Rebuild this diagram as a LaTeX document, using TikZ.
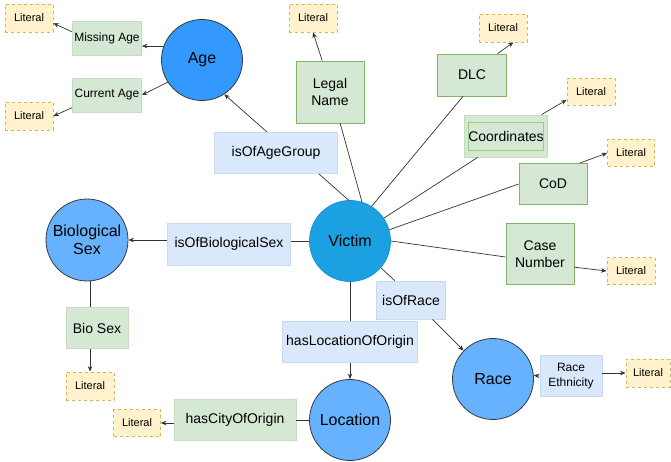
\documentclass[tikz,border=0pt]{standalone}
\usepackage{fontspec}
\setmainfont{Liberation Sans}
\usetikzlibrary{arrows.meta}
\definecolor{attfill}{HTML}{D5E8D4}
\definecolor{attline}{HTML}{82B366}
\definecolor{attfaint}{HTML}{C6DDC2}
\definecolor{attinner}{HTML}{97D077}
\definecolor{relfill}{HTML}{DAE8FC}
\definecolor{relline}{HTML}{C8D9F2}
\definecolor{litfill}{HTML}{FFF2CC}
\definecolor{litline}{HTML}{D6B656}
\definecolor{agefill}{HTML}{3399FF}
\definecolor{clsfill}{HTML}{66B2FF}
\definecolor{clsline}{HTML}{36393D}
\definecolor{vicfill}{HTML}{1BA1E2}
\definecolor{vicline}{HTML}{1793D2}
\definecolor{edgecol}{HTML}{333333}

\begin{document}
\begin{tikzpicture}[x=1pt,y=-1pt,
    every node/.style={inner sep=0pt,align=center},
    lit/.style={rectangle,draw=litline,fill=litfill,dashed,line width=0.8pt,minimum width=48pt,minimum height=28pt,font=\fontsize{11}{13}\selectfont},
    att/.style={rectangle,draw=attline,fill=attfill,line width=0.8pt,font=\fontsize{14}{17}\selectfont},
    attf/.style={att,draw=attfaint},
    rel/.style={rectangle,draw=relline,fill=relfill,line width=0.8pt,font=\fontsize{14}{17}\selectfont},
    cls/.style={circle,draw=clsline,fill=clsfill,line width=0.8pt,minimum size=81pt,font=\fontsize{16}{18}\selectfont},
    edge/.style={draw=edgecol,line width=0.7pt},
    arr/.style={edge,-{Stealth[length=5.5pt,width=4.5pt]}}]
    \useasboundingbox (0,0) rectangle (671,462);

    \node[cls,fill=agefill] (age) at (202,60) {Age};
    \node[attf,minimum width=69pt,minimum height=34pt,font=\fontsize{12}{14}\selectfont] (missing) at (107,38) {Missing Age};
    \node[attf,minimum width=69pt,minimum height=34pt,font=\fontsize{12}{14}\selectfont] (current) at (107,95) {Current Age};
    \node[lit] (litA) at (29,18) {Literal};
    \node[lit] (litB) at (29,116) {Literal};

    \node[att,minimum width=68pt,minimum height=62pt] (legal) at (330,92) {Legal\\Name};
    \node[lit] (litC) at (313,18) {Literal};
    \node[rel,minimum width=123pt,minimum height=41pt] (agegrp) at (276,153) {isOfAgeGroup};

    \node[att,minimum width=69pt,minimum height=42pt] (dlc) at (472,75) {DLC};
    \node[lit] (litD) at (503,28) {Literal};
    \node[attf,minimum width=83pt,minimum height=42pt] (coord) at (506,136) {};
    \node[rectangle,draw=attinner,line width=0.8pt,minimum width=69pt,minimum height=28pt,font=\fontsize{14}{17}\selectfont] (coordin) at (coord) {Coordinates};
    \node[lit,minimum height=27pt] (litE) at (591,92) {Literal};
    \node[att,minimum width=68pt,minimum height=41pt] (cod) at (553,184) {CoD};
    \node[lit,minimum width=47pt,minimum height=27pt] (litF) at (631,153) {Literal};

    \node[cls,fill=vicfill,draw=vicline] (victim) at (350,241) {Victim};
    \node[att,minimum width=68pt,minimum height=61pt] (casenum) at (540,254) {Case\\Number};
    \node[lit,minimum height=27pt] (litG) at (631,271) {Literal};

    \node[rel,minimum width=69pt,minimum height=38pt] (racegrp) at (411,300) {isOfRace};
    \node[cls] (race) at (493,379) {Race};
    \node[rel,minimum width=62pt,minimum height=41pt,font=\fontsize{12}{14.5}\selectfont] (ethn) at (571,376) {Race\\Ethnicity};
    \node[lit,minimum width=44pt] (litH) at (648,373) {Literal};

    \node[rel,minimum width=135pt,minimum height=41pt] (locgrp) at (350,342) {hasLocationOfOrigin};
    \node[cls] (loc) at (350,420) {Location};
    \node[attf,minimum width=122pt,minimum height=41pt] (city) at (235,420) {hasCityOfOrigin};
    \node[lit,minimum width=47pt,minimum height=27pt] (litI) at (137,423) {Literal};

    \node[cls,minimum size=82pt] (biosex) at (87,240) {Biological\\Sex};
    \node[rel,minimum width=123pt,minimum height=42pt] (sexgrp) at (229,244) {isOfBiologicalSex};
    \node[attf,minimum width=62pt,minimum height=41pt] (biobox) at (97,328) {Bio Sex};
    \node[lit] (litJ) at (90,386) {Literal};

    \draw[arr] (age.160) -- (age.160 -| missing.east);
    \draw[arr] (age.-147) -- (current.east);
    \draw[arr] (missing.170) -- (litA.-12);
    \draw[arr] (current.-160) -- (litB.east);

    \draw[edge] (victim.92) -- (agegrp.-26);
    \draw[arr] (agegrp.113) -- (age.-57);
    \draw[edge] (victim.73) -- (legal.-72);
    \draw[arr] (legal.104) -- (litC.south);
    \draw[edge] (victim.58) -- (dlc.-113);
    \draw[arr] (dlc.40) -- (litD.-54);
    \draw[edge] (victim.34) -- (coord.-143);
    \draw[arr] (coord.31) -- (litE.-162);
    \draw[edge] (victim.16) -- (cod.west);
    \draw[arr] (cod.38) -- (litF.west);
    \draw[edge] (victim.east) -- (casenum.-175);
    \draw[arr] (casenum.-21) -- (litG.west);

    \draw[edge] (victim.-41) -- (racegrp.130);
    \draw[arr] (racegrp.-42) -- (race.136);
    \draw[arr] (ethn.west) -- (race.5);
    \draw[arr] (ethn.east |- litH) -- (litH.west);

    \draw[edge] (victim.south) -- (locgrp.north);
    \draw[arr] (locgrp.south) -- (loc.north);
    \draw[edge] (loc.west) -- (city.east);
    \draw[arr] (city.west |- litI) -- (litI.east);

    \draw[edge] (victim.west) -- (victim.west -| sexgrp.east);
    \draw[arr] (sexgrp.west |- biosex) -- (biosex.east);
    \draw[edge] (biosex.south -| litJ.north) -- (biobox.north -| litJ.north);
    \draw[arr] (biobox.south -| litJ.north) -- (litJ.north);
\end{tikzpicture}
\end{document}
